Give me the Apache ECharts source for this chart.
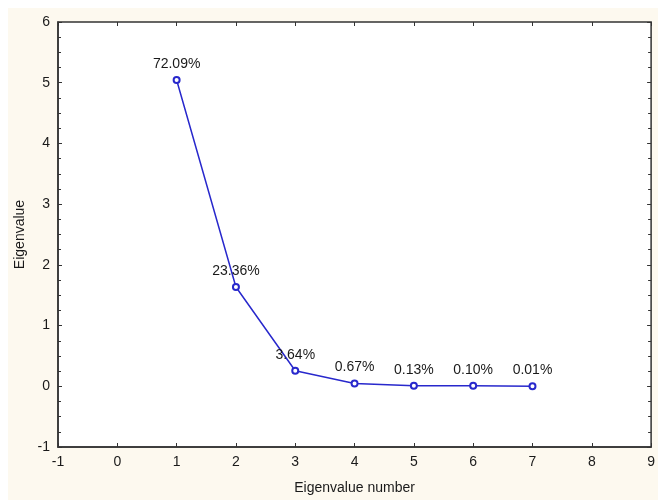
<!DOCTYPE html>
<html>
<head>
<meta charset="utf-8">
<script src="https://cdn.jsdelivr.net/npm/echarts@6/dist/echarts.min.js"></script>
<style>
  body { margin: 0; background: #fff; overflow: hidden; }
  .wrap { position: relative; width: 658px; height: 500px; }
  .paper { position: absolute; left: 8px; top: 8px; right: 0; bottom: 0; background: #fdf9ef; }
  #screeChart { position: absolute; left: 0; top: 0; width: 658px; height: 500px; }
</style>
</head>
<body>
<div class="wrap">
  <div class="paper"></div>
  <div id="screeChart"></div>
</div>
<script>
var eigenNumbers = [1, 2, 3, 4, 5, 6, 7]
var eigenValues = [5.046, 1.635, 0.255, 0.047, 0.009, 0.007, 0.0007]
var percentLabels = ['72.09%', '23.36%', '3.64%', '0.67%', '0.13%', '0.10%', '0.01%']

var lineBlue = '#2828cc'
var axisDark = '#333'
var textDark = '#1a1a1a'

var pointData = eigenNumbers.map(function (n, i) {
  return [n, eigenValues[i]]
})

var chart = echarts.init(document.getElementById('screeChart'))
var option = {
  backgroundColor: 'transparent',
  animation: false,
  textStyle: { fontFamily: 'Arial, Liberation Sans, sans-serif' },
  grid: {
    left: 58,
    top: 22,
    right: 3,
    bottom: 51,
    show: true,
    backgroundColor: '#fff',
    borderColor: axisDark,
    borderWidth: 1.5
  },
  xAxis: [
    {
      type: 'value',
      min: -1,
      max: 9,
      interval: 1,
      name: 'Eigenvalue number',
      nameLocation: 'middle',
      nameGap: 34,
      nameTextStyle: { color: textDark, fontSize: 14 },
      axisLine: { show: true, onZero: false, lineStyle: { color: axisDark, width: 1.5 } },
      axisTick: { show: true, inside: true, length: 4, lineStyle: { color: axisDark } },
      axisLabel: { color: textDark, fontSize: 14, margin: 8 },
      splitLine: { show: false }
    },
    {
      type: 'value',
      position: 'top',
      min: -1,
      max: 9,
      interval: 1,
      axisLine: { show: false, onZero: false },
      axisTick: { show: true, inside: true, length: 4, lineStyle: { color: axisDark } },
      axisLabel: { show: false },
      splitLine: { show: false }
    }
  ],
  yAxis: [
    {
      type: 'value',
      min: -1,
      max: 6,
      interval: 1,
      name: 'Eigenvalue',
      nameLocation: 'middle',
      nameGap: 27,
      nameTextStyle: { color: textDark, fontSize: 14 },
      axisLine: { show: true, onZero: false, lineStyle: { color: axisDark, width: 1.5 } },
      axisTick: { show: true, inside: true, length: 4, lineStyle: { color: axisDark } },
      minorTick: { show: true, splitNumber: 4, length: 3, lineStyle: { color: axisDark } },
      axisLabel: { color: textDark, fontSize: 14, margin: 8 },
      splitLine: { show: false }
    },
    {
      type: 'value',
      position: 'right',
      min: -1,
      max: 6,
      interval: 1,
      axisLine: { show: false, onZero: false },
      axisTick: { show: true, inside: true, length: 4, lineStyle: { color: axisDark } },
      minorTick: { show: true, splitNumber: 4, length: 3, lineStyle: { color: axisDark } },
      axisLabel: { show: false },
      splitLine: { show: false }
    }
  ],
  series: [
    {
      type: 'line',
      data: pointData,
      symbol: 'emptyCircle',
      symbolSize: 6,
      lineStyle: { color: lineBlue, width: 1.5 },
      itemStyle: { color: lineBlue, borderColor: lineBlue, borderWidth: 1.5 },
      label: {
        show: true,
        position: 'top',
        distance: 5,
        color: textDark,
        fontSize: 14,
        formatter: function (p) {
          return percentLabels[p.dataIndex]
        }
      }
    }
  ]
}
chart.setOption(option)
</script>
</body>
</html>
